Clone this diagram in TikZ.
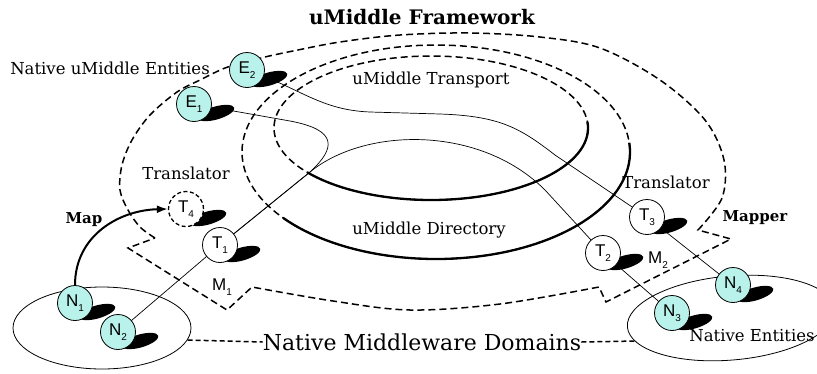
\documentclass[tikz,border=0pt]{standalone}
\usepackage{fontspec}
\setmainfont{DejaVu Serif}
\newfontfamily\lblfont{Liberation Sans}
\usetikzlibrary{shapes.geometric,arrows.meta,calc}
\definecolor{entity}{HTML}{B8F2EA}
\pgfdeclarelayer{lines}
\pgfdeclarelayer{shade}
\pgfsetlayers{lines,shade,main}
\newcommand\sublbl[2]{{\lblfont\fontsize{17}{17}\selectfont #1\raisebox{-0.5ex}{\fontsize{10}{10}\selectfont #2}}}
\tikzset{
  ent/.style={circle, draw, line width=0.8pt, minimum size=35pt, inner sep=0pt, fill=entity},
  trans/.style={circle, draw, line width=0.8pt, minimum size=35pt, inner sep=0pt, fill=white},
  ghost/.style={circle, draw, dash pattern=on 4pt off 2.5pt, line width=1.3pt, minimum size=35pt, inner sep=0pt, fill=white},
  bound/.style={line width=1.5pt, dash pattern=on 7pt off 4pt},
  rim/.style={line width=2.3pt},
  wire/.style={line width=0.7pt},
  domainring/.style={ellipse, draw, line width=0.8pt, inner sep=0pt},
  linkdash/.style={line width=1.5pt, dash pattern=on 5pt off 3pt},
  txt/.style={inner sep=0pt, font=\fontsize{16.5}{16.5}\selectfont},
  boldtxt/.style={inner sep=0pt, font=\fontsize{15}{15}\selectfont\bfseries},
  mlbl/.style={inner sep=0pt},
}
% black drop shadow to the lower right of a circle node
\newcommand\blob[1]{\fill[black] ($(#1.center)+(22,9)$) ellipse [x radius=19, y radius=6.5, rotate=16];}
\begin{document}
\begin{tikzpicture}[x=1pt,y=-1pt]
\useasboundingbox (0,0) rectangle (817,373);

% titles and labels
\node[inner sep=0pt, font=\fontsize{20}{20}\selectfont\bfseries] (title) at (422,17) {uMiddle Framework};
\node[txt] (natent) at (110,68) {Native uMiddle Entities};
\node[txt] (transport) at (431,80) {uMiddle Transport};
\node[txt] (directory) at (429,230) {uMiddle Directory};
\node[txt] (trL) at (186,173) {Translator};
\node[txt] (trR) at (666,182) {Translator};
\node[boldtxt] (maplbl) at (84,220) {Map};
\node[boldtxt] (mapper) at (755,218) {Mapper};
\node[inner sep=0pt, font=\fontsize{22}{22}\selectfont] (domains) at (422,342) {Native Middleware Domains};
\node[txt] (nativeR) at (752,336) {Native Entities};
\node[mlbl] (m1) at (222,287) {\sublbl{M}{1}};
\node[mlbl] (m2) at (658,260) {\sublbl{M}{2}};

% native middleware domains
\node[domainring, minimum width=178pt, minimum height=82pt] (domL) at (102,328) {};
\node[domainring, minimum width=208pt, minimum height=84pt, rotate=5] (domR) at (731,318) {};
\coordinate (domRedge) at (637,341);

% entities
\node[ent] (E2) at (247,70) {\sublbl{E}{2}};
\node[ent] (E1) at (194,104) {\sublbl{E}{1}};
\node[ghost] (T4) at (186,209) {\sublbl{T}{4}};
\node[trans] (T1) at (220,245) {\sublbl{T}{1}};
\node[trans] (T2) at (603,253) {\sublbl{T}{2}};
\node[trans] (T3) at (647,217) {\sublbl{T}{3}};
\node[ent] (N1) at (75,303) {\sublbl{N}{1}};
\node[ent] (N2) at (118,332) {\sublbl{N}{2}};
\node[ent] (N3) at (672,313) {\sublbl{N}{3}};
\node[ent] (N4) at (733,285) {\sublbl{N}{4}};

\begin{pgfonlayer}{shade}
  \foreach \n in {E1,E2,T1,T2,T3,T4,N1,N2,N3,N4} {\blob{\n}}
\end{pgfonlayer}

\begin{pgfonlayer}{lines}
  % uMiddle Directory ring
  \draw[bound] (436,152) ellipse [x radius=194, y radius=107];
  \draw[rim] ([shift={(-5:194 and 107)}]436,152) arc[start angle=-5, end angle=142, x radius=194, y radius=107];
  % uMiddle Transport ring
  \draw[bound] (431,128) ellipse [x radius=157, y radius=72];
  \draw[rim] ([shift={(-5:157 and 72)}]431,128) arc[start angle=-5, end angle=142, x radius=157, y radius=72];

  % framework boundary with the two mapper notches
  \draw[bound] plot[smooth, tension=0.55] coordinates {(155,238) (140,227) (128,210) (120,190) (122,165) (132,140) (150,115) (177,92) (200,80) (225,68) (247,62) (265,57) (293,51) (340,42) (400,35) (470,33) (540,37) (600,48) (660,80) (705,120) (724,160) (722,198) (698,230)}
    -- (731,239) -- (606,302) -- (599,287)
    -- plot[smooth, tension=0.55] coordinates {(599,287) (500,304) (410,310) (333,301) (252,287)}
    -- (227,310) -- (128,248) -- cycle;

  % links between entities
  \coordinate (cross) at (310,172);
  \draw[wire] (N2.center) -- (T1.center);
  \draw[wire] (E1.center) -- (290,121) .. controls (338,130) and (336,148) .. (cross) -- (T1.center);
  \draw[wire] (T1.center) -- (cross) .. controls (365,127) and (480,125) .. (545,190) -- (T2.center);
  \draw[wire] (T2.center) -- (N3.center);
  \draw[wire] (E2.center) .. controls (300,88) and (320,110) .. (370,112) -- (440,114) .. controls (500,116) and (520,128) .. (555,155) -- (T3.center);
  \draw[wire] (T3.center) -- (N4.center);

  % domain label leaders
  \draw[linkdash] (domL.-8) -- (domains.west);
  \draw[linkdash] (domains.east) -- (domRedge);
\end{pgfonlayer}

% mapping arrow
\draw[line width=2pt, -{Latex[length=11pt,width=8pt]}] (N1.north) .. controls (75,235) and (120,210) .. (T4.west);
\end{tikzpicture}
\end{document}
